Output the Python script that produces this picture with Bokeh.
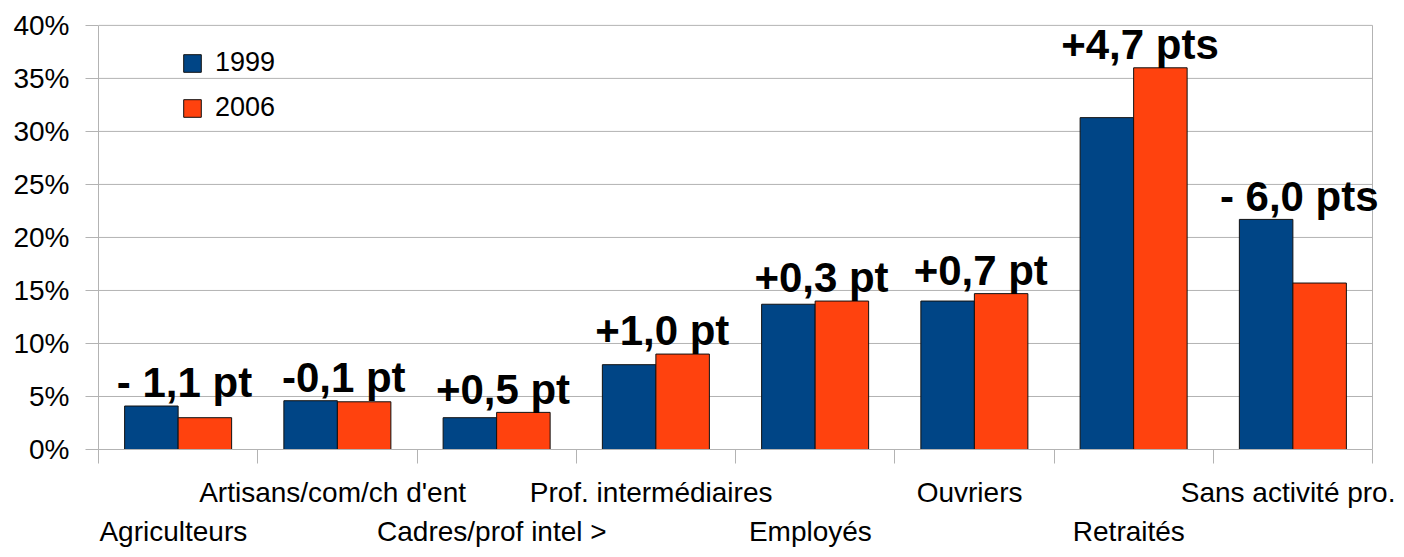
from bokeh.plotting import figure
from bokeh.models import FixedTicker, LinearAxis, Legend, LegendItem, ColumnDataSource, Range1d
from bokeh.embed import file_html
from bokeh.resources import INLINE
from bokeh.core.properties import value

categories = ["Agriculteurs", "Artisans/com/ch d'ent", "Cadres/prof intel >",
              "Prof. intermédiaires", "Employés", "Ouvriers", "Retraités",
              "Sans activité pro."]
share_1999 = [4.1, 4.6, 3.0, 8.0, 13.7, 14.0, 31.3, 21.7]
share_2006 = [3.0, 4.5, 3.5, 9.0, 14.0, 14.7, 36.0, 15.7]
changes = ["- 1,1 pt", "-0,1 pt", "+0,5 pt", "+1,0 pt", "+0,3 pt", "+0,7 pt",
           "+4,7 pts", "- 6,0 pts"]
series = ["1999", "2006"]
y_ticks = [0, 5, 10, 15, 20, 25, 30, 35, 40]
y_tick_labels = ["0%", "5%", "10%", "15%", "20%", "25%", "30%", "35%", "40%"]

BLUE = "#004586"
ORANGE = "#ff420e"
GRAY = "#b3b3b3"
FONT = "Liberation Sans"
BAR_W = 0.336
CAT_LABEL_SHIFT = -0.03
CHANGE_LABEL_SHIFT = 0.04

# pixel layout: plot wall spans x 98..1372, y 25..451 on a 1396x549 canvas;
# the frame is extended to the canvas top/right so big labels are not clipped
W, H = 1396, 549
WALL_L, WALL_R, WALL_T, WALL_B = 98, 1372, 25, 451

n = len(categories)
y_max = y_ticks[-1]
centers = [i + 0.5 for i in range(n)]
x_end = n * (W - WALL_L) / (WALL_R - WALL_L)
y_end = y_max * WALL_B / (WALL_B - WALL_T)

p = figure(width=W, height=H, output_backend="svg", toolbar_location=None,
           x_range=Range1d(0, x_end), y_range=Range1d(0, y_end),
           min_border_left=WALL_L, min_border_right=0, min_border_top=0,
           min_border_bottom=H - WALL_B)
p.outline_line_color = None
p.background_fill_color = "white"
p.xgrid.visible = False
p.ygrid.visible = False

# gridlines and right wall limited to the wall area
p.segment(x0=[0] * len(y_ticks), x1=[n] * len(y_ticks), y0=y_ticks, y1=y_ticks,
          line_color=GRAY, line_width=1)
p.segment(x0=[n], x1=[n], y0=[0], y1=[y_max], line_color=GRAY, line_width=1)

src = ColumnDataSource(dict(
    x1=[c - BAR_W / 2 for c in centers],
    x2=[c + BAR_W / 2 for c in centers],
    v1=share_1999, v2=share_2006))

r1 = p.vbar(x="x1", top="v1", width=BAR_W, bottom=0, source=src,
            fill_color=BLUE, line_color="#111111", line_width=1)
r2 = p.vbar(x="x2", top="v2", width=BAR_W, bottom=0, source=src,
            fill_color=ORANGE, line_color="#111111", line_width=1)

# change labels
p.text(x=[c + CHANGE_LABEL_SHIFT for c in centers],
       y=[max(a, b) + 2.2 for a, b in zip(share_1999, share_2006)],
       text=changes, text_font=value(FONT), text_font_style="bold",
       text_font_size="42px", text_align="center", text_baseline="alphabetic",
       text_color="black")

# y axis
ya = p.yaxis[0]
ya.bounds = (0, y_max)
ya.ticker = FixedTicker(ticks=y_ticks)
ya.major_label_overrides = {t: l for t, l in zip(y_ticks, y_tick_labels)}
ya.major_tick_out = 13
ya.major_tick_in = 0
ya.minor_tick_line_color = None
ya.axis_line_color = GRAY
ya.major_tick_line_color = GRAY
ya.major_label_text_font = FONT
ya.major_label_text_font_size = "28px"
ya.major_label_text_color = "black"
ya.major_label_standoff = 16

# x axis: boundary ticks only
xa = p.xaxis[0]
xa.bounds = (0, n)
xa.ticker = FixedTicker(ticks=list(range(n + 1)))
xa.major_label_overrides = {i: "" for i in range(n + 1)}
xa.major_label_text_font_size = "1px"
xa.major_label_standoff = 0
xa.major_tick_out = 14
xa.major_tick_in = 0
xa.minor_tick_line_color = None
xa.axis_line_color = GRAY
xa.major_tick_line_color = GRAY

def label_axis(idx, standoff):
    ticks = [centers[i] + CAT_LABEL_SHIFT for i in idx]
    ax = LinearAxis(ticker=FixedTicker(ticks=ticks),
                    major_label_overrides={t: categories[i] for t, i in zip(ticks, idx)})
    ax.axis_line_color = None
    ax.major_tick_line_color = None
    ax.minor_tick_line_color = None
    ax.major_tick_out = 0
    ax.major_tick_in = 0
    ax.major_label_standoff = standoff
    ax.major_label_text_font = FONT
    ax.major_label_text_font_size = "28px"
    ax.major_label_text_color = "black"
    return ax

p.add_layout(label_axis([1, 3, 5, 7], 13), "below")
p.add_layout(label_axis([0, 2, 4, 6], 5), "below")

legend = Legend(items=[LegendItem(label=series[0], renderers=[r1]),
                       LegendItem(label=series[1], renderers=[r2])],
                location=(83, 326), glyph_width=22, glyph_height=22,
                label_height=22, spacing=14, padding=0, margin=0,
                border_line_color=None, background_fill_alpha=0,
                label_text_font=FONT, label_text_font_size="27px",
                label_standoff=12, label_text_color="black")
p.add_layout(legend)

open("out.html", "w").write(file_html(p, INLINE))
